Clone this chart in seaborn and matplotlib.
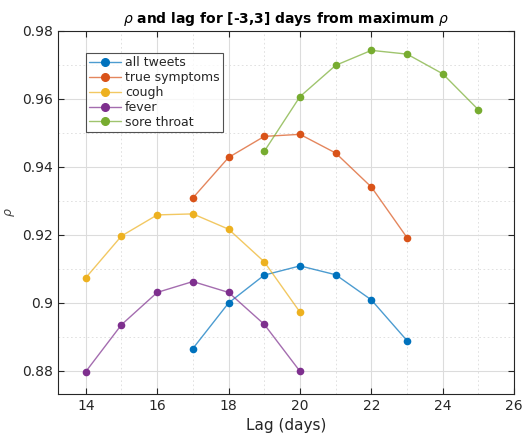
import numpy as np
import pandas as pd
import matplotlib
matplotlib.use("Agg")
import matplotlib.pyplot as plt
import seaborn as sns
from matplotlib.ticker import MultipleLocator
from matplotlib.lines import Line2D

series_names = ["all tweets", "true symptoms", "cough", "fever", "sore throat"]
lag_all = [17, 18, 19, 20, 21, 22, 23]
rho_all = [0.8866, 0.9000, 0.9082, 0.9109, 0.9083, 0.9009, 0.8889]
lag_true = [17, 18, 19, 20, 21, 22, 23]
rho_true = [0.9309, 0.9428, 0.9490, 0.9496, 0.9441, 0.9341, 0.9192]
lag_cough = [14, 15, 16, 17, 18, 19, 20]
rho_cough = [0.9074, 0.9197, 0.9259, 0.9262, 0.9217, 0.9121, 0.8973]
lag_fever = [14, 15, 16, 17, 18, 19, 20]
rho_fever = [0.8798, 0.8936, 0.9031, 0.9063, 0.9031, 0.8937, 0.8799]
lag_sore = [19, 20, 21, 22, 23, 24, 25]
rho_sore = [0.9446, 0.9607, 0.9699, 0.9743, 0.9732, 0.9674, 0.9568]

colors = ["#0072BD", "#D95319", "#EDB120", "#7E2F8E", "#77AC30"]
x_ticks = [14, 16, 18, 20, 22, 24, 26]
y_ticks = [0.88, 0.90, 0.92, 0.94, 0.96, 0.98]
y_tick_labels = ["0.88", "0.9", "0.92", "0.94", "0.96", "0.98"]

lags = [lag_all, lag_true, lag_cough, lag_fever, lag_sore]
rhos = [rho_all, rho_true, rho_cough, rho_fever, rho_sore]
df = pd.concat([pd.DataFrame({"lag": l, "rho": r, "series": n})
                for l, r, n in zip(lags, rhos, series_names)], ignore_index=True)

sns.set_style("white")
plt.rcParams['font.family'] = ['DejaVu Sans']

fig = plt.figure(figsize=(5.22, 4.34), dpi=100)
ax = fig.add_axes([0.111, 0.092, 0.874, 0.8366])

MS = 5.5
sns.lineplot(data=df, x="lag", y="rho", hue="series", hue_order=series_names,
             palette=colors, marker="o", markersize=MS, markeredgewidth=0,
             linewidth=1.0, ax=ax, legend=False)
for line, c in zip(ax.get_lines(), colors):
    line.set_color(matplotlib.colors.to_rgba(c, 0.7))
    line.set_markerfacecolor(c)
    line.set_markeredgecolor(c)

ax.set_xlim(13.22, 26)
ax.set_ylim(0.8732, 0.98)
ax.set_xticks(x_ticks)
ax.set_yticks(y_ticks)
ax.set_yticklabels(y_tick_labels)
ax.xaxis.set_minor_locator(MultipleLocator(1))
ax.yaxis.set_minor_locator(MultipleLocator(0.01))
ax.grid(True, which="major", color="#dcdcdc", linewidth=0.8, linestyle="-")
ax.grid(True, which="minor", color="#dcdcdc", linewidth=0.6, linestyle=(0, (2, 3)))
ax.set_axisbelow(True)
ax.tick_params(which="both", direction="in", top=True, right=True, left=True, bottom=True,
               labelsize=10, colors="#262626", length=4)
ax.tick_params(which="minor", length=0)
for s in ax.spines.values():
    s.set_color("#262626")
    s.set_linewidth(0.8)

ax.set_xlabel("Lag (days)", fontsize=11, color="#262626")
ax.set_ylabel(r"$\rho$", fontsize=9, color="#404040")
ax.set_title(r"$\rho$ and lag for [-3,3] days from maximum $\rho$", fontsize=10,
             fontweight="bold", color="black")

handles = [Line2D([], [], color=matplotlib.colors.to_rgba(c, 0.7), marker="o",
                  markerfacecolor=c, markeredgecolor=c, markersize=MS, linewidth=1.0)
           for c in colors]
leg = ax.legend(handles, series_names, loc="upper left", bbox_to_anchor=(0.061, 0.939),
                borderaxespad=0, fontsize=9, frameon=True, fancybox=False,
                edgecolor="#262626", borderpad=0.25, labelspacing=0.15,
                handlelength=2.6, handletextpad=0.3)
leg.get_frame().set_linewidth(0.8)

fig.savefig("out.png", dpi=100)
